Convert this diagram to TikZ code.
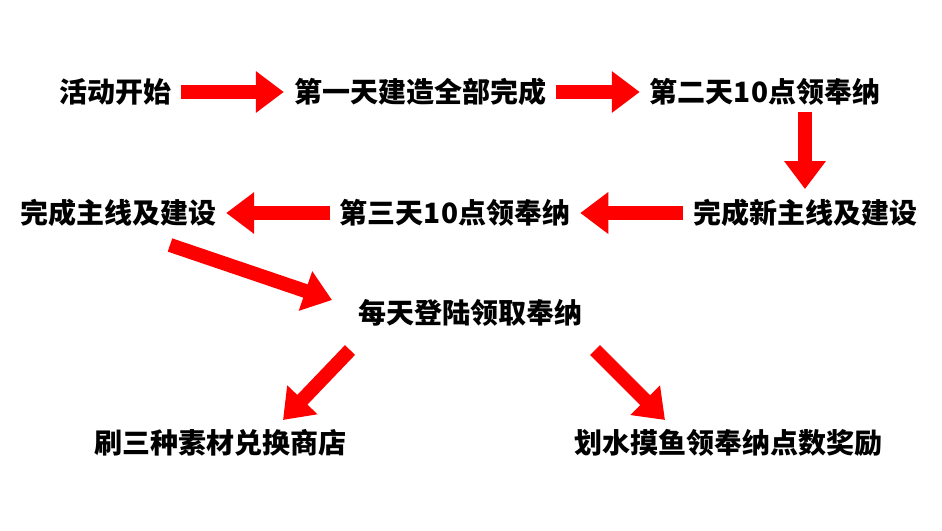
\documentclass[tikz,border=0pt]{standalone}
\usepackage{fontspec}
\setmainfont{Noto Sans CJK SC}
\usetikzlibrary{arrows.meta}
\tikzset{
  stage/.style={font=\bfseries\fontsize{28}{28}\selectfont, inner sep=2pt},
  redarrow/.style={red, line width=14pt, -{Triangle[length=28pt,width=40pt]}, shorten <=8pt, shorten >=8pt}
}
\begin{document}
\begin{tikzpicture}[x=1pt,y=-1pt]
\useasboundingbox (0,0) rectangle (942,530);
%picture
\node[stage] (start) at (115,92) {活动开始};
\node[stage] (day1) at (420,92) {第一天建造全部完成};
\node[stage] (day2) at (765,92) {第二天10点领奉纳};
\node[stage] (newmain) at (805,213) {完成新主线及建设};
\node[stage] (day3) at (455,213) {第三天10点领奉纳};
\node[stage] (main) at (118,213) {完成主线及建设};
\node[stage] (daily) at (470,313) {每天登陆领取奉纳};
\node[stage] (shop) at (220,443) {刷三种素材兑换商店};
\node[stage] (fish) at (728,443) {划水摸鱼领奉纳点数奖励};
%arrows
\coordinate (c1) at (170,245);
\coordinate (c2) at (332,300);
\coordinate (c3) at (350,350);
\coordinate (c4) at (283,420);
\coordinate (c5) at (595,350);
\coordinate (c6) at (665,420);
\draw[redarrow] (start.east) -- (day1.west);
\draw[redarrow] (day1.east) -- (day2.west);
\draw[redarrow,shorten <=4pt] (day2.south -| newmain.north) -- (newmain.north);
\draw[redarrow] (newmain.west) -- (day3.east);
\draw[redarrow] (day3.west) -- (main.east);
\draw[redarrow,shorten <=0pt,shorten >=0pt] (c1) -- (c2);
\draw[redarrow,shorten <=0pt,shorten >=0pt] (c3) -- (c4);
\draw[redarrow,shorten <=0pt,shorten >=0pt] (c5) -- (c6);
\end{tikzpicture}
\end{document}
